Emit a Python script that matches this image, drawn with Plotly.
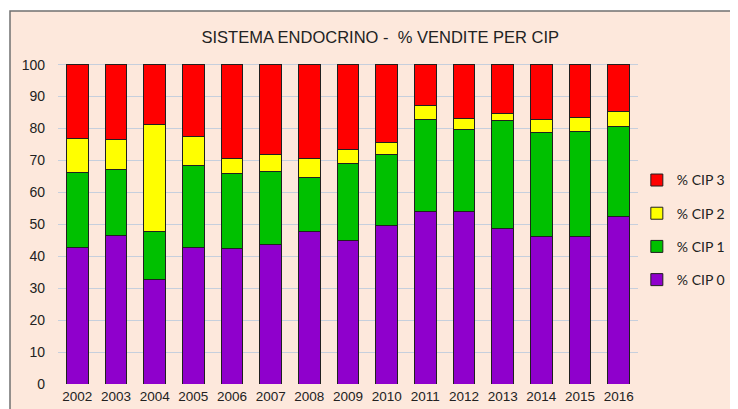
import plotly.graph_objects as go

years = ["2002", "2003", "2004", "2005", "2006", "2007", "2008", "2009",
         "2010", "2011", "2012", "2013", "2014", "2015", "2016"]
cip0 = [42.7, 46.4, 32.6, 42.7, 42.4, 43.6, 47.6, 45.0, 49.7, 53.9, 54.1, 48.8, 46.3, 46.3, 52.3]
cip1 = [23.4, 20.9, 15.3, 25.6, 23.5, 22.8, 17.1, 23.9, 22.2, 28.8, 25.7, 33.6, 32.4, 32.6, 28.2]
cip2 = [10.9, 9.1, 33.2, 9.2, 4.8, 5.5, 6.0, 4.4, 3.7, 4.4, 3.4, 2.4, 4.0, 4.5, 4.8]
cip3 = [round(100 - a - b - c, 1) for a, b, c in zip(cip0, cip1, cip2)]

series = [("% CIP 0", cip0, "#8f00cc", 4),
          ("% CIP 1", cip1, "#00c000", 3),
          ("% CIP 2", cip2, "#ffff00", 2),
          ("% CIP 3", cip3, "#ff0000", 1)]

fig = go.Figure()
for name, vals, col, rank in series:
    fig.add_trace(go.Bar(x=years, y=vals, name=name, legendgroup=name, legendrank=rank,
                         marker=dict(color=col, line=dict(color="#202020", width=1))))

# page has an 8px body margin; figure is sized to fill the rest of the window
W, H = 730, 401
L, R, T, B = 50, 100, 55, 25
PW, PH = W - L - R, H - T - B

fig.update_layout(
    barmode="stack", bargap=0.44,
    width=W, height=H,
    margin=dict(l=L, r=R, t=T, b=B, autoexpand=False),
    paper_bgcolor="white", plot_bgcolor="#d9e2f0",
    title=dict(text="SISTEMA ENDOCRINO -  % VENDITE PER CIP", x=0.51, xanchor="center",
               y=1 - 29 / H, yanchor="middle",
               font=dict(family="Liberation Sans, Arial", size=16.5, color="#222")),
    legend=dict(x=0.998, xanchor="left", y=0.48, yanchor="middle",
                traceorder="grouped", tracegroupgap=12,
                font=dict(family="Lato, sans-serif", size=14, color="#222"),
                bgcolor="rgba(0,0,0,0)", itemwidth=30),
    showlegend=True,
    font=dict(family="Liberation Sans, Arial", size=12, color="#222"),
)
fig.update_yaxes(range=[0, 100.5], tickvals=list(range(0, 101, 10)),
                 gridcolor="#c6cfdd", gridwidth=1, zeroline=False,
                 tickfont=dict(size=14), ticks="", ticklabelstandoff=12)
fig.update_xaxes(tickfont=dict(size=13.5), ticks="", showgrid=False, ticklabelstandoff=2)

fig.add_shape(type="rect", xref="paper", yref="paper",
              x0=(2 - L) / PW, x1=(W + 20 - L) / PW,
              y0=-(B + 20) / PH, y1=(PH + T - 3) / PH,
              fillcolor="#fde8dc", line=dict(color="#707070", width=1.5), layer="below")

fig.write_html("out.html")
